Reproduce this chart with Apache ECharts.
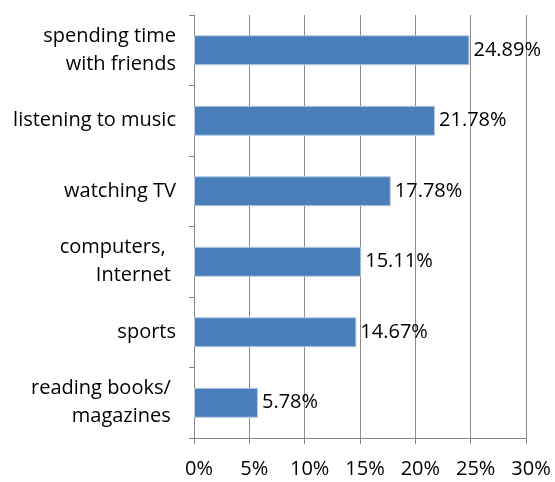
<!DOCTYPE html>
<html><head><meta charset="utf-8">
<script src="https://cdn.jsdelivr.net/npm/echarts@6/dist/echarts.min.js"></script>
<style>html,body{margin:0;padding:0;background:#fff}#c{width:555px;height:482px}</style>
</head><body><div id="c"></div>
<script>
const categories = ["spending time\nwith friends", "listening to music", "watching TV", "computers,  \nInternet ", "sports", "reading books/ \nmagazines "];
const values = [24.89, 21.78, 17.78, 15.11, 14.67, 5.78];
const tickLabels = ["0%", "5%", "10%", "15%", "20%", "25%", "30%"];
const font = "'Open Sans', sans-serif";
const chart = echarts.init(document.getElementById('c'));
chart.setOption({
  animation: false,
  grid: {left: 194, right: 29, top: 15, bottom: 44, containLabel: false},
  xAxis: {
    type: 'value', min: 0, max: 30, interval: 5,
    axisLine: {show: true, lineStyle: {color: '#868686'}},
    axisTick: {show: true, length: 6, lineStyle: {color: '#868686'}},
    splitLine: {show: true, lineStyle: {color: '#8c8c8c'}},
    axisLabel: {margin: 21, color: '#000', fontSize: 20, fontFamily: font, padding: [0,0,0,10],
      formatter: v => tickLabels[Math.round(v/5)]}
  },
  yAxis: {
    type: 'category', data: categories, inverse: true,
    axisLine: {show: true, lineStyle: {color: '#868686'}},
    axisTick: {show: true, length: 5, lineStyle: {color: '#868686'}},
    axisLabel: {margin: 18, color: '#000', fontSize: 20, fontFamily: font, lineHeight: 28}
  },
  series: [{
    type: 'bar', data: values, barWidth: 30,
    itemStyle: {color: '#4a7ebb', borderColor: '#b9cde5', borderWidth: 1},
    label: {show: true, position: 'right', distance: 4, color: '#000', fontSize: 20, fontFamily: font,
      formatter: p => p.value.toFixed(2) + '%'}
  }]
});
</script></body></html>
